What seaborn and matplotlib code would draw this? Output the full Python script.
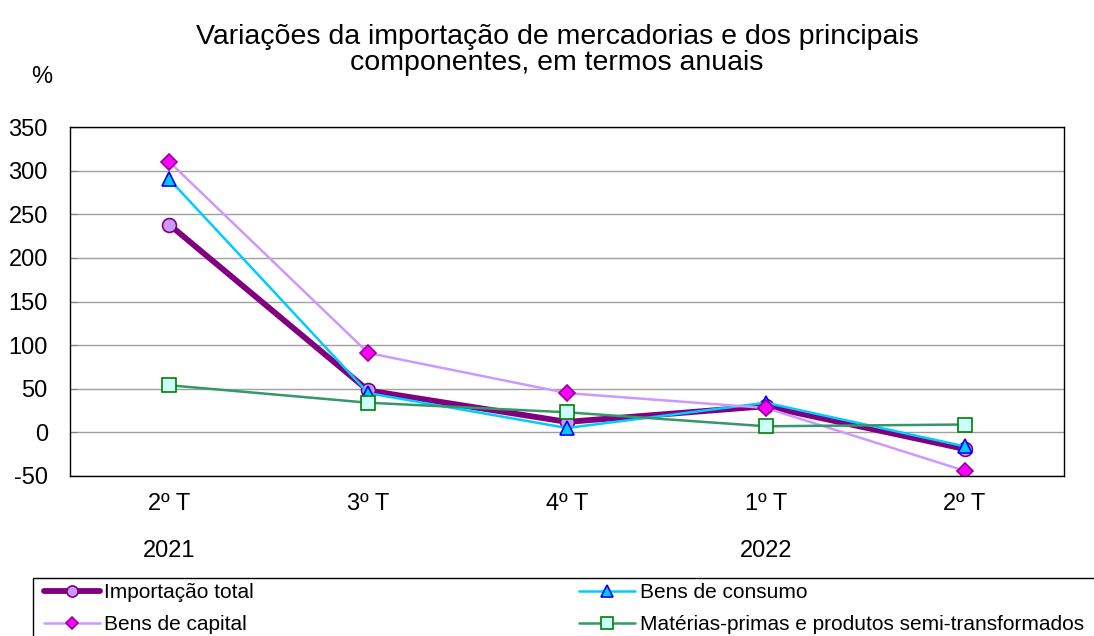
# --- IMPORT LIBRARIES ---
import pandas as pd
import matplotlib
matplotlib.use('Agg')
import matplotlib.pyplot as plt
import seaborn as sns

# --- DATA ---
quarters = ['2º T', '3º T', '4º T', '1º T', '2º T']
years = {0: '2021', 3: '2022'}
importacao_total = [238, 48, 12, 30, -19]
bens_consumo = [290, 45, 5, 34, -16]
bens_capital = [310, 91, 45, 28, -44]
materias_primas = [54, 34, 23, 7, 9]

# --- STYLE ---
sns.set_style('white')
plt.rcParams['font.family'] = ['Liberation Sans', 'DejaVu Sans']
plt.rcParams['axes.unicode_minus'] = False
for key in ['text.color', 'axes.labelcolor', 'xtick.color', 'ytick.color']:
    plt.rcParams[key] = 'black'

df = pd.DataFrame({
    'pos': range(len(quarters)),
    'Importação total': importacao_total,
    'Bens de consumo': bens_consumo,
    'Bens de capital': bens_capital,
    'Matérias-primas e produtos semi-transformados': materias_primas,
})

W, H = 1094, 636
fig = plt.figure(figsize=(W / 100, H / 100), dpi=100)
ax = fig.add_axes([70 / W, 1 - 476 / H, 994 / W, 349 / H])

# Series styles: (column, line colour, line width, marker, face, edge, size)
series = [
    ('Importação total', '#800080', 4.2, 'o', '#CC99FF', '#800080', 10),
    ('Bens de consumo', '#00CCFF', 1.8, '^', '#00CCFF', '#0000FF', 10),
    ('Bens de capital', '#CC99FF', 1.8, 'D', '#FF00FF', '#990099', 8),
    ('Matérias-primas e produtos semi-transformados', '#339966', 1.8, 's', '#CCFFFF', '#008000', 10),
]
for col, lc, lw, mk, mf, me, ms in series:
    sns.lineplot(data=df, x='pos', y=col, ax=ax, color=lc, linewidth=lw,
                 marker=mk, markerfacecolor=mf, markeredgecolor=me,
                 markeredgewidth=1.2, markersize=ms, label=col)

ax.set_xlim(-0.5, len(quarters) - 0.5)
ax.set_ylim(-50, 350)
ax.set_yticks(range(-50, 351, 50))
ax.set_xticks(range(len(quarters)))
ax.set_xticklabels(quarters)
ax.set_xlabel('')
ax.set_ylabel('')
ax.yaxis.grid(True, color='#a0a0a0', linewidth=1)
ax.set_axisbelow(True)
for s in ax.spines.values():
    s.set_color('black')
    s.set_linewidth(1)
ax.tick_params(axis='y', direction='in', length=5, color='#808080', labelsize=17, pad=16, left=True)
ax.tick_params(axis='x', length=0, labelsize=17, pad=12)

# Year labels under the first quarter of each year
for i, yr in years.items():
    ax.text(i, -0.231, yr, transform=ax.get_xaxis_transform(), ha='center', va='baseline', fontsize=17)

fig.text(42 / W, 1 - 77 / H, '%', ha='center', va='center', fontsize=17)
fig.text(557 / W, 1 - 44 / H, 'Variações da importação de mercadorias e dos principais',
         ha='center', va='baseline', fontsize=20.5)
fig.text(557 / W, 1 - 70 / H, 'componentes, em termos anuais',
         ha='center', va='baseline', fontsize=20.5)

# Legend: column 1 = total / capital, column 2 = consumo / matérias
h, l = ax.get_legend_handles_labels()
order = [0, 2, 1, 3]
ax.get_legend().remove()
leg = fig.legend([h[i] for i in order], [l[i] for i in order], ncol=2,
                 loc='upper left', bbox_to_anchor=(44 / W, 1 - 583 / H),
                 frameon=False, fontsize=15, markerscale=0.8,
                 handlelength=2.7, handletextpad=0.2, columnspacing=15.6,
                 borderpad=0, labelspacing=0.62, borderaxespad=0)
# legend box runs off the right and bottom of the figure
fig.add_artist(plt.Rectangle((33 / W, -0.1), 2, 1 - 578 / H + 0.1, transform=fig.transFigure,
                             fill=False, edgecolor='black', linewidth=1))

fig.savefig('out.png', dpi=100)
